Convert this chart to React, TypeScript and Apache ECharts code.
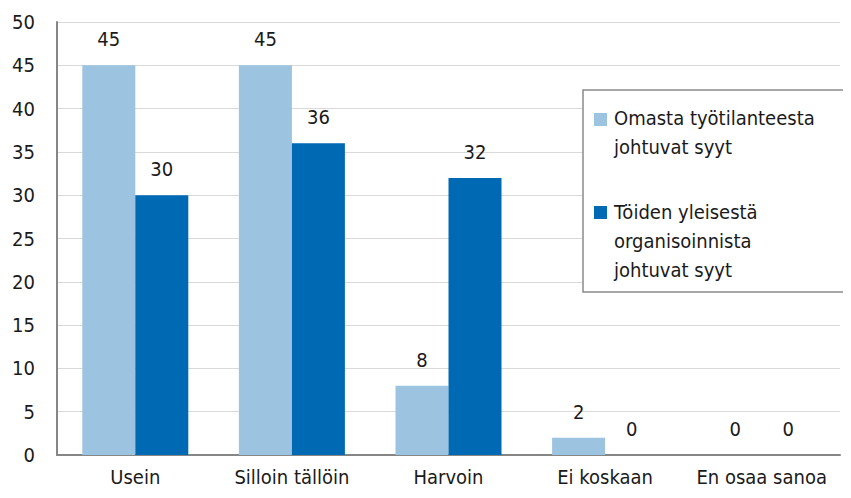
import React, { useEffect, useRef } from "react";
import * as echarts from "echarts";

const categories = ["Usein", "Silloin tällöin", "Harvoin", "Ei koskaan", "En osaa sanoa"];
const seriesNames = [
  ["Omasta työtilanteesta", "johtuvat syyt"],
  ["Töiden yleisestä", "organisoinnista", "johtuvat syyt"],
];
const omasta = [45, 45, 8, 2, 0];
const toiden = [30, 36, 32, 0, 0];
const colors = ["#9cc3e0", "#0069b4"];
const yTicks = { min: 0, max: 50, interval: 5 };

const FONT = "'DejaVu Sans Condensed', sans-serif";

export default function App() {
  const ref = useRef<HTMLDivElement>(null);
  useEffect(() => {
    const chart = echarts.init(ref.current!, null, { renderer: "svg" });
    const labelStyle = {
      show: true,
      position: "top" as const,
      distance: 16,
      color: "#1a1a1a",
      fontSize: 20,
      fontFamily: FONT,
    };
    const legendX = 583;
    const legendY = 90;
    chart.setOption({
      animation: false,
      textStyle: { fontFamily: FONT },
      grid: { left: 57, right: 11, top: 22, bottom: 43, containLabel: false },
      xAxis: {
        type: "category",
        data: categories,
        axisLine: { lineStyle: { color: "#868686", width: 2 } },
        axisTick: { show: false },
        axisLabel: { color: "#1a1a1a", fontSize: 20, fontFamily: FONT, margin: 12, interval: 0 },
      },
      yAxis: {
        type: "value",
        min: yTicks.min,
        max: yTicks.max,
        interval: yTicks.interval,
        axisLine: { show: true, lineStyle: { color: "#868686", width: 2 } },
        axisTick: { show: false },
        splitLine: { lineStyle: { color: "#d9d9d9", width: 1 } },
        axisLabel: { color: "#1a1a1a", fontSize: 20, fontFamily: FONT, margin: 22 },
      },
      series: [
        {
          name: seriesNames[0].join(" "),
          type: "bar",
          data: omasta,
          barWidth: 53,
          barGap: "0%",
          itemStyle: { color: colors[0] },
          label: labelStyle,
        },
        {
          name: seriesNames[1].join(" "),
          type: "bar",
          data: toiden,
          barWidth: 53,
          barGap: "0%",
          itemStyle: { color: colors[1] },
          label: labelStyle,
        },
      ],
      graphic: [
        {
          type: "rect",
          shape: { x: legendX, y: legendY, width: 266, height: 202 },
          style: { fill: "#fff", stroke: "#8a8a8a", lineWidth: 1.5 },
          z: 10,
        },
        {
          type: "rect",
          shape: { x: legendX + 11, y: legendY + 23, width: 13, height: 13 },
          style: { fill: colors[0] },
          z: 11,
        },
        {
          type: "text",
          x: legendX + 31,
          y: legendY + 13,
          style: {
            text: seriesNames[0].join("\n"),
            fontSize: 20,
            lineHeight: 29,
            fontFamily: FONT,
            fill: "#1a1a1a",
          },
          z: 11,
        },
        {
          type: "rect",
          shape: { x: legendX + 11, y: legendY + 116, width: 13, height: 13 },
          style: { fill: colors[1] },
          z: 11,
        },
        {
          type: "text",
          x: legendX + 31,
          y: legendY + 107,
          style: {
            text: seriesNames[1].join("\n"),
            fontSize: 20,
            lineHeight: 29,
            fontFamily: FONT,
            fill: "#1a1a1a",
          },
          z: 11,
        },
      ],
    });
    return () => chart.dispose();
  }, []);
  return <div ref={ref} style={{ width: 851, height: 498, margin: -8 }} />;
}
